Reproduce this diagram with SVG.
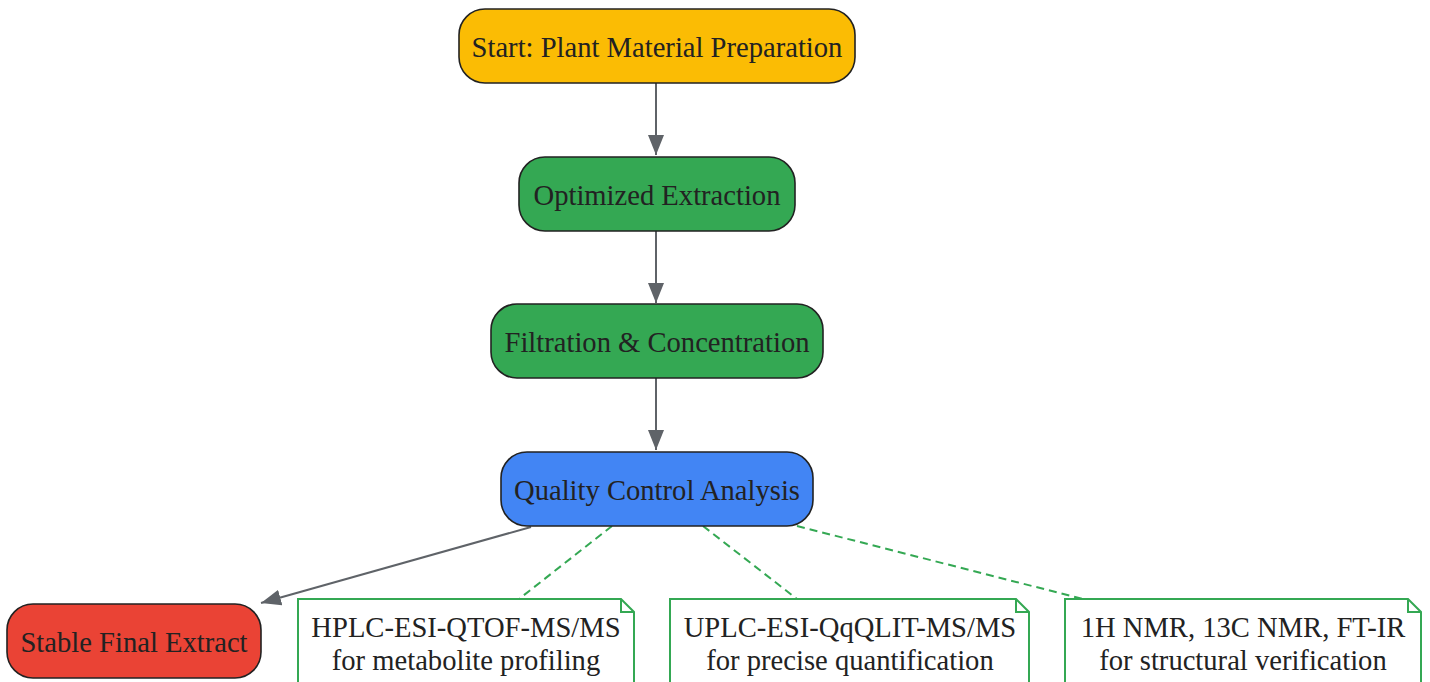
<svg xmlns="http://www.w3.org/2000/svg" width="1430" height="682" viewBox="0 0 1430 682">
<style>
.n{stroke:#222;stroke-width:1.6}
.t{font-family:"Liberation Serif","Times New Roman",serif;font-size:28.6px;fill:#222;text-anchor:middle;dominant-baseline:central}
.note{fill:#fff;stroke:#34a853;stroke-width:2}
.e{stroke:#5f6368;stroke-width:2;fill:none}
.d{stroke:#34a853;stroke-width:2;fill:none;stroke-dasharray:8,5}
</style>
<defs>
<marker id="ah" viewBox="0 0 20 16" refX="20" refY="8" markerWidth="20" markerHeight="16" markerUnits="userSpaceOnUse" orient="auto">
<path d="M0,0 L20,8 L0,16 Z" fill="#5f6368"/>
</marker>
</defs>
<rect width="1430" height="682" fill="#fff"/>
<g id="connectors">
<line class="e" x1="656" y1="83" x2="656" y2="155" marker-end="url(#ah)"/>
<line class="e" x1="656" y1="231" x2="656" y2="303" marker-end="url(#ah)"/>
<line class="e" x1="656" y1="378" x2="656" y2="450" marker-end="url(#ah)"/>
<line class="e" x1="531" y1="527" x2="261" y2="603" marker-end="url(#ah)"/>
<line class="d" x1="612" y1="526" x2="519" y2="599"/>
<line class="d" x1="703" y1="526" x2="797" y2="599"/>
<line class="d" x1="797" y1="526" x2="1083" y2="599"/>
</g>
<g id="start">
<rect class="n" x="459" y="9" width="396" height="74" rx="26" fill="#fbbc04"/>
<text class="t" x="657" y="47">Start: Plant Material Preparation</text>
</g>
<g id="extraction">
<rect class="n" x="519" y="157" width="276" height="74" rx="26" fill="#34a853"/>
<text class="t" x="657" y="195">Optimized Extraction</text>
</g>
<g id="filtration">
<rect class="n" x="491" y="304" width="332" height="74" rx="26" fill="#34a853"/>
<text class="t" x="657" y="342">Filtration &amp; Concentration</text>
</g>
<g id="qc">
<rect class="n" x="501" y="452" width="312" height="74" rx="26" fill="#4285f4"/>
<text class="t" x="657" y="490">Quality Control Analysis</text>
</g>
<g id="final">
<rect class="n" x="7" y="604" width="254" height="74" rx="26" fill="#ea4335"/>
<text class="t" x="134" y="642">Stable Final Extract</text>
</g>
<g id="note1">
<path class="note" d="M298,599 H621 L634,612 V690 H298 Z M621,599 V612 H634"/>
<text class="t" x="466" y="627">HPLC-ESI-QTOF-MS/MS</text>
<text class="t" x="466" y="660">for metabolite profiling</text>
</g>
<g id="note2">
<path class="note" d="M670,599 H1016 L1029,612 V690 H670 Z M1016,599 V612 H1029"/>
<text class="t" x="850" y="627">UPLC-ESI-QqQLIT-MS/MS</text>
<text class="t" x="850" y="660">for precise quantification</text>
</g>
<g id="note3">
<path class="note" d="M1065,599 H1408 L1421,612 V690 H1065 Z M1408,599 V612 H1421"/>
<text class="t" x="1243" y="627">1H NMR, 13C NMR, FT-IR</text>
<text class="t" x="1243" y="660">for structural verification</text>
</g>
</svg>
